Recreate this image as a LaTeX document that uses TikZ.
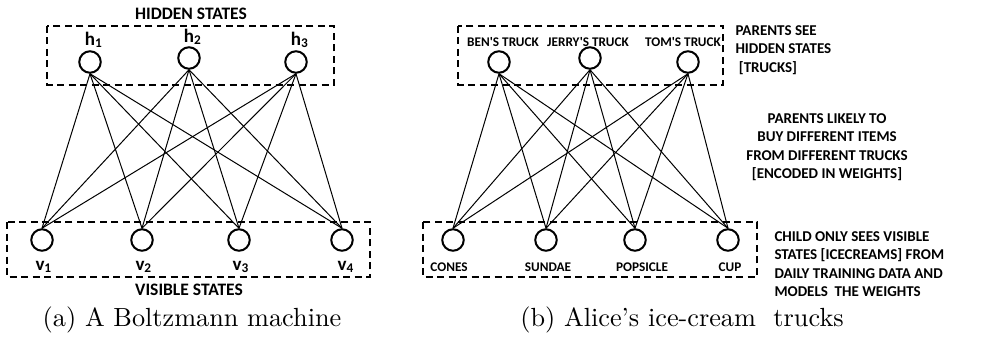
\documentclass[tikz,border=0pt]{standalone}
\usepackage{fontspec}
\newfontfamily\lblfont{Carlito}

\tikzset{
  unit/.style={circle, draw, line width=0.8pt, minimum size=8.6pt, inner sep=0pt},
  grp/.style={draw, line width=0.8pt, dash pattern=on 2.8pt off 1.8pt},
  wire/.style={line width=0.4pt},
  title/.style={font=\lblfont\bfseries\fontsize{7}{8.5}\selectfont, inner sep=0pt},
  sym/.style={font=\lblfont\bfseries\fontsize{7.6}{9}\selectfont, inner sep=0pt},
  tag/.style={font=\lblfont\bfseries\fontsize{5.3}{6.5}\selectfont, inner sep=0pt},
  note/.style={font=\lblfont\bfseries\fontsize{6}{7.4}\selectfont, inner sep=0pt},
  captext/.style={font=\fontsize{10.5}{12}\selectfont, inner sep=0pt}
}

\begin{document}
\begin{tikzpicture}[x=0.4pt, y=-0.4pt]
  \useasboundingbox (0,0) rectangle (987,339);

  % (a) Boltzmann machine
  \draw[grp] (47,26) rectangle (334,85);
  \draw[grp] (7,222) rectangle (370,277);
  \node[title] (hidtitle) at (191,14) {HIDDEN STATES};
  \node[title] (vistitle) at (189,290) {VISIBLE STATES};

  \node[unit] (h1) at (90,62) {};
  \node[unit] (h2) at (189,58) {};
  \node[unit] (h3) at (296,62) {};
  \node[sym] (h1lbl) at (94,40) {h\textsubscript{1}};
  \node[sym] (h2lbl) at (193,37) {h\textsubscript{2}};
  \node[sym] (h3lbl) at (300,40) {h\textsubscript{3}};

  \node[unit] (v1) at (42,240) {};
  \node[unit] (v2) at (142,240) {};
  \node[unit] (v3) at (239,240) {};
  \node[unit] (v4) at (342,240) {};
  \node[sym] (v1lbl) at (44,267) {v\textsubscript{1}};
  \node[sym] (v2lbl) at (144,267) {v\textsubscript{2}};
  \node[sym] (v3lbl) at (241,267) {v\textsubscript{3}};
  \node[sym] (v4lbl) at (346,267) {v\textsubscript{4}};

  \foreach \h in {h1,h2,h3}
    \foreach \v in {v1,v2,v3,v4}
      \draw[wire] (\h.south) -- (\v.north);

  \node[captext] (capa) at (192,320) {(a) A Boltzmann machine};

  % (b) ice-cream trucks
  \draw[grp] (458,26) rectangle (723,85);
  \draw[grp] (423,222) rectangle (757,277);

  \node[unit] (ben) at (499,62) {};
  \node[unit] (jerry) at (590,58) {};
  \node[unit] (tom) at (688,62) {};
  \node[tag] (benlbl) at (503,42) {BEN'S TRUCK};
  \node[tag] (jerrylbl) at (588,42) {JERRY'S TRUCK};
  \node[tag] (tomlbl) at (683,42) {TOM'S TRUCK};

  \node[unit] (cones) at (453,240) {};
  \node[unit] (sundae) at (546,240) {};
  \node[unit] (popsicle) at (635,240) {};
  \node[unit] (cup) at (728,240) {};
  \node[tag] (coneslbl) at (449,267) {CONES};
  \node[tag] (sundaelbl) at (548,267) {SUNDAE};
  \node[tag] (popsiclelbl) at (642,267) {POPSICLE};
  \node[tag] (cuplbl) at (730,267) {CUP};

  \foreach \t in {ben,jerry,tom}
    \foreach \c in {cones,sundae,popsicle,cup}
      \draw[wire] (\t.south) -- (\c.north);

  \node[note, anchor=west, align=left] (seenote) at (735,50)
    {PARENTS SEE\\HIDDEN STATES\\\ {[}TRUCKS{]}};
  \node[note, align=center] (buynote) at (827,147)
    {PARENTS LIKELY TO\\BUY DIFFERENT ITEMS\\FROM DIFFERENT TRUCKS\\{[}ENCODED IN WEIGHTS{]}};
  \node[note, anchor=west, align=left] (childnote) at (774,264)
    {CHILD ONLY SEES VISIBLE\\STATES {[}ICECREAMS{]} FROM\\DAILY TRAINING DATA AND\\MODELS\ \ THE WEIGHTS};

  \node[captext] (capb) at (682,320) {(b) Alice's ice-cream~ trucks};
\end{tikzpicture}
\end{document}
